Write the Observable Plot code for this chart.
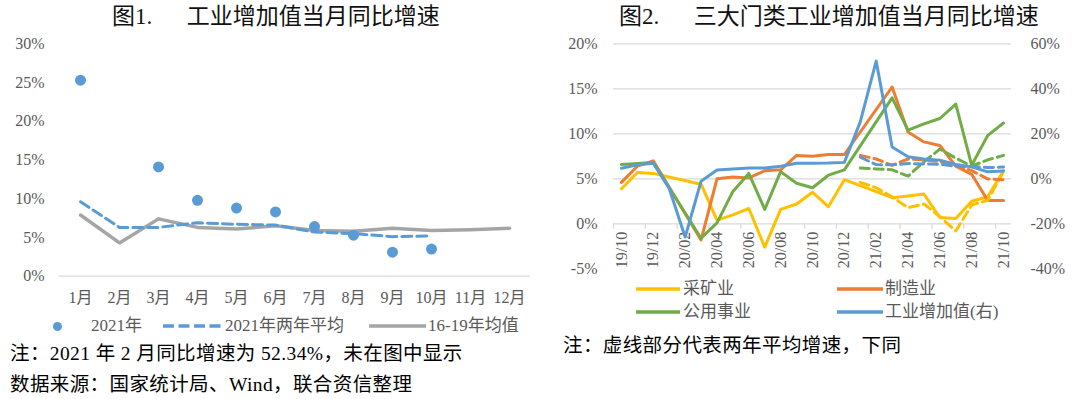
<!DOCTYPE html>
<html>
<head>
<meta charset="utf-8">
<script src="https://cdn.jsdelivr.net/npm/d3@7"></script>
<script src="https://cdn.jsdelivr.net/npm/@observablehq/plot@0.6"></script>
<style>
  body { margin: 0; background: #fff; }
  #root { position: relative; width: 1080px; height: 399px; overflow: hidden; background: #fff;
          font-family: "Liberation Serif", "Noto Sans CJK SC", serif; }
  .abs { position: absolute; white-space: pre; line-height: 1; }
  .title { font-size: 23px; color: #111; }
  .leg { font-size: 17px; color: #595959; }
  .note { font-size: 19.5px; color: #000; font-weight: 400; letter-spacing: 0.4px; }
</style>
</head>
<body>
<div id="root"></div>
<script>
// ---------- Figure 1 data ----------
const months = ["1月","2月","3月","4月","5月","6月","7月","8月","9月","10月","11月","12月"];
const yoy2021 = [25.3, null, 14.1, 9.8, 8.8, 8.3, 6.4, 5.3, 3.1, 3.5, null, null];
const twoYearAvg2021 = [9.6, 6.3, 6.3, 6.9, 6.7, 6.6, 5.7, 5.5, 5.1, 5.2, null, null];
const avg2016to2019 = [7.9, 4.3, 7.4, 6.3, 6.1, 6.5, 5.9, 5.8, 6.2, 5.9, 6.0, 6.2];
const leftTicks = [0, 5, 10, 15, 20, 25, 30];

// ---------- Figure 2 data ----------
const periods = ["19/10","19/11","19/12","20/01","20/02","20/03","20/04","20/05","20/06","20/07","20/08","20/09",
                 "20/10","20/11","20/12","21/01","21/02","21/03","21/04","21/05","21/06","21/07","21/08","21/09","21/10"];
const mining        = [3.9, 5.7, 5.6, null, null, 4.4, 0.4, 1.0, 1.7, -2.6, 1.6, 2.2, 3.5, 1.9, 4.9, null, null, 2.9, 3.1, 3.3, 0.7, 0.6, 2.5, 3.0, 5.9];
const manufacturing = [4.6, 6.4, 7.0, null, null, -1.8, 5.0, 5.2, 5.1, 5.9, 6.0, 7.6, 7.5, 7.7, 7.7, null, null, 15.2, 10.2, 9.1, 8.7, 6.4, 5.5, 2.6, 2.6];
const utilities     = [6.6, 6.7, 6.8, null, null, -1.6, 0.1, 3.6, 5.6, 1.6, 5.8, 4.5, 4.0, 5.4, 6.0, null, null, 14.0, 10.4, 11.1, 11.7, 13.3, 6.5, 9.8, 11.2];
const industryVA    = [4.7, 6.2, 6.9, -4.3, -25.9, -1.1, 3.9, 4.4, 4.8, 4.8, 5.6, 6.9, 6.9, 7.0, 7.3, 25.3, 52.3, 14.1, 9.8, 8.8, 8.3, 6.4, 5.3, 3.1, 3.5];
// two-year average growth (dashed)
const mining2y        = [null,null,null,null,null,null,null,null,null,null,null,null,null,null,null, 4.6, 4.0, 3.0, 1.8, 2.2, 0.8, -0.8, 2.1, 2.6, 5.8];
const manufacturing2y = [null,null,null,null,null,null,null,null,null,null,null,null,null,null,null, 7.6, 7.2, 6.5, 7.2, 7.1, 6.9, 6.5, 5.9, 5.0, 4.9];
const utilities2y     = [null,null,null,null,null,null,null,null,null,null,null,null,null,null,null, 6.2, 6.1, 6.0, 5.3, 6.9, 8.3, 7.3, 6.4, 7.1, 7.6];
const industryVA2y    = [null,null,null,null,null,null,null,null,null,null,null,null,null,null,null, 9.6, 6.3, 6.2, 6.8, 6.6, 6.5, 5.6, 5.4, 5.0, 5.2];
const rightLeftTicks = [-5, 0, 5, 10, 15, 20];
const rightRightTicks = [-40, -20, 0, 20, 40, 60];

const C = { blue: "#5B9BD5", orange: "#ED7D31", grey: "#A5A5A5", yellow: "#FFC000", green: "#70AD47", grid: "#D9D9D9", text: "#595959" };
const FONT = "'Liberation Serif', 'Noto Sans CJK SC', serif";

const root = document.getElementById("root");
function place(node, left, top) {
  node.style.position = "absolute"; node.style.left = left + "px"; node.style.top = top + "px";
  root.appendChild(node);
}
function div(cls, text, left, top, extra) {
  const d = document.createElement("div");
  d.className = "abs " + cls; d.textContent = text;
  d.style.left = left + "px"; d.style.top = top + "px";
  if (extra) Object.assign(d.style, extra);
  root.appendChild(d); return d;
}

// ---------- Figure 1 ----------
const fig1 = months.map((m, i) => ({m, y21: yoy2021[i], y2: twoYearAvg2021[i], y1619: avg2016to2019[i]}));
const left = Plot.plot({
  width: 540, height: 280,
  marginTop: 13.3, marginBottom: 34.3, marginLeft: 58.6, marginRight: 9.7,
  style: {fontFamily: FONT, fontSize: "16px", color: C.text, background: "transparent", overflow: "visible"},
  x: {type: "point", domain: months, padding: 0.5, label: null, tickSize: 0, tickPadding: 15},
  y: {domain: [0, 30], ticks: leftTicks, tickFormat: d => d + "%", label: null, tickSize: 0, tickPadding: 14.6},
  marks: [
    Plot.ruleY([0], {stroke: C.grid, strokeWidth: 1.3}),
    Plot.line(fig1.filter(d => d.y1619 != null), {x: "m", y: "y1619", stroke: C.grey, strokeWidth: 3.5}),
    Plot.line(fig1.filter(d => d.y2 != null), {x: "m", y: "y2", stroke: C.blue, strokeWidth: 3, strokeDasharray: "10,5"}),
    Plot.dot(fig1.filter(d => d.y21 != null), {x: "m", y: "y21", r: 5.5, fill: C.blue, stroke: "none"})
  ]
});
place(left, 0, 30);

// ---------- Figure 2 ----------
const idx = periods.map((_, i) => i);
const series = (arr) => idx.filter(i => arr[i] != null).map(i => ({i, v: arr[i]}));
const toLeft = v => 5 + v / 4;   // right axis value mapped onto the left axis scale
const tickBounds = d3.range(0, 13).map(k => -0.5 + 2 * k);
const labelIdx = idx.filter(i => i % 2 === 0);

const right = Plot.plot({
  width: 530, height: 250,
  marginTop: 13.3, marginBottom: 11.7, marginLeft: 63, marginRight: 69,
  style: {fontFamily: FONT, fontSize: "16px", color: C.text, background: "transparent", overflow: "visible"},
  x: {domain: [-0.5, 24.5], axis: null},
  y: {domain: [-5, 20], axis: null},
  marks: [
    Plot.ruleY([5, 10, 15, 20], {stroke: C.grid, strokeWidth: 1.3}),
    Plot.ruleY([0], {stroke: C.grid, strokeWidth: 1.3}),
    Plot.ruleX(tickBounds, {x: d => d, y1: 0, y2: -0.6, stroke: C.grid, strokeWidth: 1.3}),
    Plot.axisY({anchor: "left", ticks: rightLeftTicks, tickFormat: d => d + "%", tickSize: 0, tickPadding: 16, label: null}),
    Plot.axisY({anchor: "right", ticks: rightRightTicks.map(toLeft), tickFormat: d => Math.round((d - 5) * 4) + "%", tickSize: 0, tickPadding: 19, label: null}),
    Plot.text(labelIdx, {x: d => d, y: 0, text: d => periods[d], rotate: -90, textAnchor: "end", dy: 8, fontSize: 16, fill: C.text}),
    Plot.line(series(mining), {x: "i", y: "v", stroke: C.yellow, strokeWidth: 3}),
    Plot.line(series(manufacturing), {x: "i", y: "v", stroke: C.orange, strokeWidth: 3}),
    Plot.line(series(utilities), {x: "i", y: "v", stroke: C.green, strokeWidth: 3}),
    Plot.line(series(mining2y), {x: "i", y: "v", stroke: C.yellow, strokeWidth: 3, strokeDasharray: "9,5"}),
    Plot.line(series(manufacturing2y), {x: "i", y: "v", stroke: C.orange, strokeWidth: 3, strokeDasharray: "9,5"}),
    Plot.line(series(utilities2y), {x: "i", y: "v", stroke: C.green, strokeWidth: 3, strokeDasharray: "9,5"}),
    Plot.line(series(industryVA), {x: "i", y: d => toLeft(d.v), stroke: C.blue, strokeWidth: 3}),
    Plot.line(series(industryVA2y), {x: "i", y: d => toLeft(d.v), stroke: C.blue, strokeWidth: 3, strokeDasharray: "9,5"})
  ]
});
place(right, 550, 30);

// ---------- Titles ----------
div("title", "图1.      工业增加值当月同比增速", 112, 5);
div("title", "图2.      三大门类工业增加值当月同比增速", 619, 5);

// ---------- Legend helpers ----------
function swatchLine(x1, x2, y, color, dash, width) {
  const s = document.createElementNS("http://www.w3.org/2000/svg", "svg");
  s.setAttribute("width", x2 - x1); s.setAttribute("height", 8);
  s.style.position = "absolute"; s.style.left = x1 + "px"; s.style.top = (y - 4) + "px";
  const l = document.createElementNS("http://www.w3.org/2000/svg", "line");
  l.setAttribute("x1", 0); l.setAttribute("x2", x2 - x1); l.setAttribute("y1", 4); l.setAttribute("y2", 4);
  l.setAttribute("stroke", color); l.setAttribute("stroke-width", width || 3.5);
  if (dash) l.setAttribute("stroke-dasharray", dash);
  s.appendChild(l); root.appendChild(s);
}
function swatchDot(cx, cy, r, color) {
  const s = document.createElementNS("http://www.w3.org/2000/svg", "svg");
  s.setAttribute("width", 2 * r + 2); s.setAttribute("height", 2 * r + 2);
  s.style.position = "absolute"; s.style.left = (cx - r - 1) + "px"; s.style.top = (cy - r - 1) + "px";
  const c = document.createElementNS("http://www.w3.org/2000/svg", "circle");
  c.setAttribute("cx", r + 1); c.setAttribute("cy", r + 1); c.setAttribute("r", r); c.setAttribute("fill", color);
  s.appendChild(c); root.appendChild(s);
}

// Legend 1
const ly1 = 326;
swatchDot(57.7, ly1, 4.5, C.blue);
div("leg", "2021年", 91, ly1 - 9);
swatchLine(163, 222, ly1, C.blue, "11,4.5", 3.5);
div("leg", "2021年两年平均", 225, ly1 - 9);
swatchLine(369, 426, ly1, C.grey, null, 3.5);
div("leg", "16-19年均值", 428, ly1 - 9);

// Legend 2
const r1 = 289, r2 = 312;
swatchLine(636, 680, r1, C.yellow); div("leg", "采矿业", 683, r1 - 9);
swatchLine(837, 883, r1, C.orange); div("leg", "制造业", 885, r1 - 9);
swatchLine(636, 680, r2, C.green);  div("leg", "公用事业", 683, r2 - 9);
swatchLine(837, 883, r2, C.blue);   div("leg", "工业增加值(右)", 885, r2 - 9);

// Notes
div("note", "注：2021 年 2 月同比增速为 52.34%，未在图中显示", 10, 344);
div("note", "数据来源：国家统计局、Wind，联合资信整理", 10, 375);
div("note", "注：虚线部分代表两年平均增速，下同", 563, 336);
</script>
</body>
</html>
